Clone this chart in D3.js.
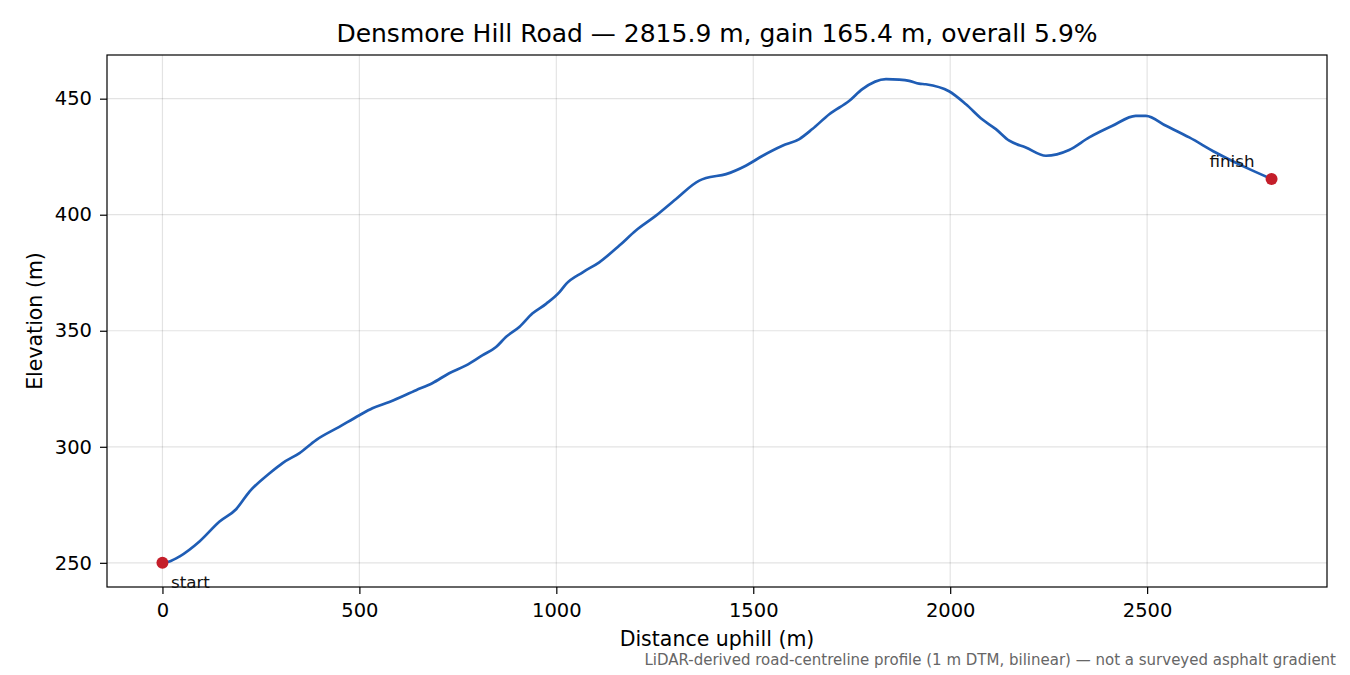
<!DOCTYPE html>
<html>
<head>
<meta charset="utf-8">
<script src="https://cdn.jsdelivr.net/npm/d3@7"></script>
<style>
  body { margin: 0; background: #fff; }
  svg { font-family: "DejaVu Sans", sans-serif; }
</style>
</head>
<body>
<svg></svg>
<script>
const distance = [0, 18, 43, 94, 145, 187, 221, 272, 305, 348, 390, 449, 500, 533, 576, 644, 685, 728,
  771, 812, 847, 872, 906, 939, 974, 1008, 1025, 1067, 1109, 1160, 1202, 1253, 1304, 1363, 1380, 1431,
  1481, 1524, 1574, 1617, 1650, 1693, 1744, 1777, 1837, 1871, 1896, 1921, 1938, 1997, 2040, 2082, 2116,
  2150, 2192, 2243, 2302, 2353, 2412, 2471, 2497, 2548, 2607, 2674, 2750, 2815.9];
const elevation = [250, 250.6, 252.7, 259.2, 267.8, 273.1, 280.7, 288.6, 293, 297.3, 302.9, 308.6, 313.6,
  316.6, 319.3, 324.4, 327.4, 331.7, 335.1, 339.4, 343, 347.3, 351.6, 357.4, 361.6, 366.6, 370.2, 375.2,
  379.5, 386.7, 393.2, 399.6, 406.8, 414.7, 415.8, 417.5, 421.1, 425.4, 429.7, 432.6, 436.9, 443.3, 449.1,
  454.1, 458.4, 458.2, 457.7, 456.5, 456.2, 453.2, 447.6, 441, 436.9, 431.9, 429, 425.4, 427.9, 433.3,
  438.3, 442.6, 442.6, 438.3, 433.3, 426.8, 420.4, 415.4];
const xTicks = [0, 500, 1000, 1500, 2000, 2500];
const yTicks = [250, 300, 350, 400, 450];
const endpoints = [
  { label: "start", i: 0 },
  { label: "finish", i: distance.length - 1 }
];

const width = 1350;
const height = 675;
const margin = { top: 55, right: 23, bottom: 88, left: 107 };

const svg = d3.select("svg").attr("width", width).attr("height", height);

const points = distance.map((d, i) => ({ d: d, e: elevation[i] }));

// matplotlib-like 5% padding
const dx = d3.max(distance) - d3.min(distance);
const ey = [d3.min(elevation), d3.max(elevation)];
const xScale = d3.scaleLinear()
  .domain([d3.min(distance) - dx * 0.05, d3.max(distance) + dx * 0.05])
  .range([margin.left, width - margin.right]);
const yScale = d3.scaleLinear()
  .domain([ey[0] - (ey[1] - ey[0]) * 0.05, ey[1] + (ey[1] - ey[0]) * 0.05])
  .range([height - margin.bottom, margin.top]);

// grid
svg.append("g")
  .selectAll("line")
  .data(xTicks)
  .enter()
  .append("line")
  .attr("x1", (d) => xScale(d))
  .attr("x2", (d) => xScale(d))
  .attr("y1", margin.top)
  .attr("y2", height - margin.bottom)
  .attr("stroke", "#000")
  .attr("stroke-opacity", 0.11)
  .attr("stroke-width", 1.2);

svg.append("g")
  .selectAll("line")
  .data(yTicks)
  .enter()
  .append("line")
  .attr("x1", margin.left)
  .attr("x2", width - margin.right)
  .attr("y1", (d) => yScale(d))
  .attr("y2", (d) => yScale(d))
  .attr("stroke", "#000")
  .attr("stroke-opacity", 0.11)
  .attr("stroke-width", 1.2);

// profile line
const line = d3.line()
  .x((p) => xScale(p.d))
  .y((p) => yScale(p.e))
  .curve(d3.curveMonotoneX);

svg.append("path")
  .datum(points)
  .attr("d", line)
  .attr("fill", "none")
  .attr("stroke", "#1f5db5")
  .attr("stroke-width", 2.7)
  .attr("stroke-linejoin", "round");

// endpoints
svg.append("g")
  .selectAll("circle")
  .data(endpoints)
  .enter()
  .append("circle")
  .attr("cx", (p) => xScale(distance[p.i]))
  .attr("cy", (p) => yScale(elevation[p.i]))
  .attr("r", 6)
  .attr("fill", "#c41e2a");

// axes
const xAxis = d3.axisBottom(xScale).tickValues(xTicks).tickSize(7).tickPadding(9).tickFormat(d3.format("d"));
const yAxis = d3.axisLeft(yScale).tickValues(yTicks).tickSize(7).tickPadding(8).tickFormat(d3.format("d"));

const gx = svg.append("g")
  .attr("transform", `translate(0, ${height - margin.bottom})`)
  .call(xAxis);
const gy = svg.append("g")
  .attr("transform", `translate(${margin.left}, 0)`)
  .call(yAxis);

[gx, gy].forEach((g) => {
  g.select(".domain").remove();
  g.selectAll(".tick line").attr("stroke", "#000").attr("stroke-width", 1.2);
  g.selectAll(".tick text").attr("font-size", 19.5).attr("fill", "#000")
    .attr("font-family", "DejaVu Sans, sans-serif");
});

// frame
svg.append("rect")
  .attr("x", margin.left)
  .attr("y", margin.top)
  .attr("width", width - margin.left - margin.right)
  .attr("height", height - margin.top - margin.bottom)
  .attr("fill", "none")
  .attr("stroke", "#000")
  .attr("stroke-width", 1.2);

// endpoint labels
svg.append("text")
  .attr("x", xScale(distance[0]) + 8.5)
  .attr("y", yScale(elevation[0]) + 25)
  .attr("font-size", 16.7)
  .attr("fill", "#111")
  .text(endpoints[0].label);

svg.append("text")
  .attr("x", xScale(distance[distance.length - 1]) - 17)
  .attr("y", yScale(elevation[elevation.length - 1]) - 12)
  .attr("text-anchor", "end")
  .attr("font-size", 16.7)
  .attr("fill", "#111")
  .text(endpoints[1].label);

// labels
svg.append("text")
  .attr("x", (margin.left + width - margin.right) / 2)
  .attr("y", 42)
  .attr("text-anchor", "middle")
  .attr("font-size", 25)
  .attr("fill", "#000")
  .text("Densmore Hill Road — 2815.9 m, gain 165.4 m, overall 5.9%");

svg.append("text")
  .attr("x", (margin.left + width - margin.right) / 2)
  .attr("y", 646)
  .attr("text-anchor", "middle")
  .attr("font-size", 20.5)
  .attr("fill", "#000")
  .text("Distance uphill (m)");

svg.append("text")
  .attr("transform", `translate(42, ${(margin.top + height - margin.bottom) / 2}) rotate(-90)`)
  .attr("text-anchor", "middle")
  .attr("font-size", 20.5)
  .attr("fill", "#000")
  .text("Elevation (m)");

svg.append("text")
  .attr("x", 1336)
  .attr("y", 665)
  .attr("text-anchor", "end")
  .attr("font-size", 15)
  .attr("fill", "#666")
  .text("LiDAR-derived road-centreline profile (1 m DTM, bilinear) — not a surveyed asphalt gradient");
</script>
</body>
</html>
